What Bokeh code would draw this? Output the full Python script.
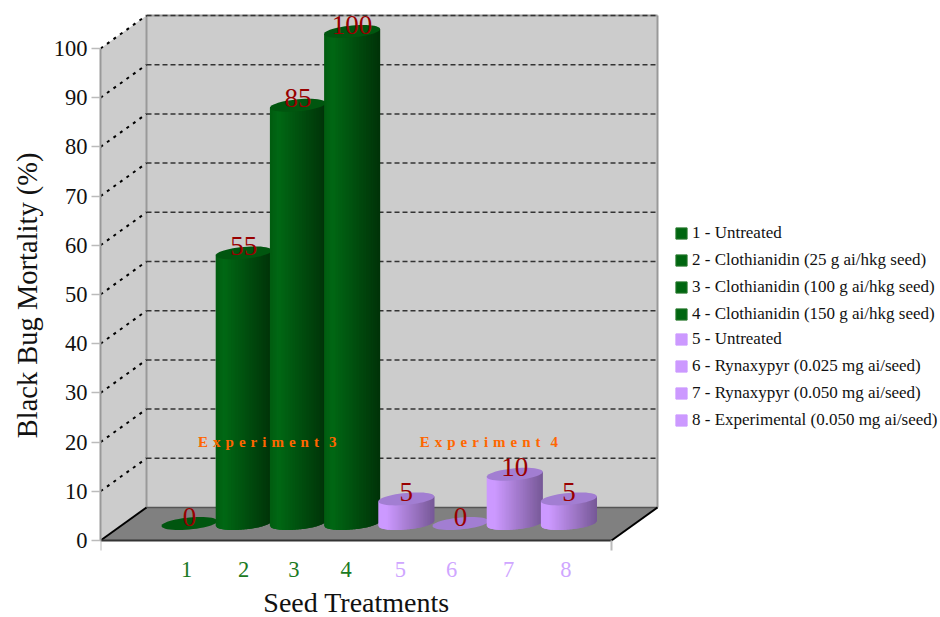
import math

from bokeh.core.properties import value
from bokeh.embed import file_html
from bokeh.models import FixedTicker, Legend, LegendItem, LinearAxis, Range1d, Title
from bokeh.plotting import figure
from bokeh.resources import INLINE

# Bar values: black bug mortality per seed treatment
treatments = [1, 2, 3, 4, 5, 6, 7, 8]
mortality = [0, 55, 85, 100, 5, 0, 10, 5]
experiment_3 = [1, 2, 3, 4]
experiment_4 = [5, 6, 7, 8]
legend_green = [
    "1 - Untreated",
    "2 - Clothianidin (25 g ai/hkg seed)",
    "3 - Clothianidin (100 g ai/hkg seed)",
    "4 - Clothianidin (150 g ai/hkg seed)",
]
legend_purple = [
    "5 - Untreated",
    "6 - Rynaxypyr (0.025 mg ai/seed)",
    "7 - Rynaxypyr (0.050 mg ai/seed)",
    "8 - Experimental (0.050 mg ai/seed)",
]
y_ticks = list(range(0, 101, 10))

WIDTH, HEIGHT = 940, 617
FRAME_LEFT = 100
FONT = "Liberation Serif"

# Pixel scale of the two data axes
PX_PER_T = 54.2
PX_PER_V = 4.92
T1_PX = 186
ZERO_PX = 540

x_start = 1 + (FRAME_LEFT - T1_PX) / PX_PER_T
x_end = 1 + (WIDTH - T1_PX) / PX_PER_T
y_start = (ZERO_PX - HEIGHT) / PX_PER_V
y_end = ZERO_PX / PX_PER_V

# Box of the 3D scene, in data units
front_left = x_start
front_right = 1 + (611 - T1_PX) / PX_PER_T
depth_x = 46 / PX_PER_T
depth_y = 33 / PX_PER_V
top = 100

# Cylinder geometry, in data units
bar_shift = 3 / PX_PER_T
bar_base = 17 / PX_PER_V
bar_a = 0.5 * 56 / PX_PER_T
bar_b = 6 / PX_PER_V
bar_tilt = 2.5 / PX_PER_V
STRIPS = 40

# Small sideways nudges of the treatment numbers, in pixels
tick_nudge_px = [0, 3, -1, -3, -3, -6, -3, 0]

p = figure(
    width=WIDTH,
    height=HEIGHT,
    output_backend="svg",
    toolbar_location=None,
    x_range=Range1d(x_start, x_end),
    y_range=Range1d(y_start, y_end),
    x_axis_location=None,
    y_axis_location="left",
    min_border_left=FRAME_LEFT,
    min_border_right=0,
    min_border_top=0,
    min_border_bottom=0,
    outline_line_color=None,
    background_fill_color="white",
    border_fill_color="white",
)
p.grid.visible = False

# Walls and floor
p.patch(
    [front_left + depth_x, front_right + depth_x, front_right + depth_x, front_left + depth_x],
    [depth_y, depth_y, top + depth_y, top + depth_y],
    fill_color="#cccccc", line_color=None,
)
p.patch(
    [front_left, front_left + depth_x, front_left + depth_x, front_left],
    [0, depth_y, top + depth_y, top],
    fill_color="#cccccc", line_color=None,
)
p.patch(
    [front_left, front_left + depth_x, front_right + depth_x, front_right],
    [0, depth_y, depth_y, 0],
    fill_color="#808080", line_color=None,
)

# Wall outlines
p.multi_line(
    xs=[[front_left + depth_x] * 2, [front_right + depth_x] * 2, [front_left + depth_x, front_right + depth_x]],
    ys=[[depth_y, top + depth_y], [depth_y, top + depth_y], [top + depth_y, top + depth_y]],
    line_color="#999999", line_width=2,
)
p.line([front_left + depth_x, front_right + depth_x], [depth_y, depth_y], line_color="#555555", line_width=1.5)

# Dashed gridlines on the back wall and the side wall
grid_values = [v for v in y_ticks if v > 0]
p.multi_line(
    xs=[[front_left + depth_x, front_right + depth_x] for _ in grid_values],
    ys=[[v + depth_y, v + depth_y] for v in grid_values],
    line_color="#333333", line_width=1.5, line_dash="5 3",
)
p.multi_line(
    xs=[[front_left, front_left + depth_x] for _ in grid_values],
    ys=[[v, v + depth_y] for v in grid_values],
    line_color="#000000", line_width=2, line_dash="3 5",
)

# Floor edges and the short ticks at both ends of the floor front
p.multi_line(
    xs=[[front_left, front_left + depth_x], [front_right, front_right + depth_x]],
    ys=[[0, depth_y], [0, depth_y]],
    line_color="#000000", line_width=2,
)
p.line([front_left, front_right], [0, 0], line_color="#333333", line_width=2)
p.multi_line(
    xs=[[front_left, front_left], [front_right, front_right]],
    ys=[[0, -10 / PX_PER_V], [0, -10 / PX_PER_V]],
    line_color="#bbbbbb", line_width=2,
)


def blend(c1, c2, f):
    return "#" + "".join(f"{round(a + (b - a) * f):02x}" for a, b in zip(c1, c2))


def shade(frac, light, peak, dark):
    # Cylinder shading across the width: a quick highlight, then a long falloff
    if frac < 0.15:
        return blend(light, peak, frac / 0.15)
    return blend(peak, dark, (frac - 0.15) / 0.85)


def cylinder(t, v, light, peak, dark, cap):
    cx = t + bar_shift
    cy_low = bar_base
    cy_high = bar_base + v

    def lower(u):
        return cy_low + bar_tilt * u - bar_b * math.sqrt(max(0.0, 1 - u * u))

    def upper(u):
        return cy_high + bar_tilt * u

    xs, ys, colors = [], [], []
    if v > 0:
        for i in range(STRIPS):
            f0 = i / STRIPS
            # Each strip runs one step past its neighbour, which paints over the joint
            f1 = min(1.0, (i + 2) / STRIPS)
            u0, u1 = 2 * f0 - 1, 2 * f1 - 1
            um = min(2 * (i + 1) / STRIPS - 1, u1)
            xs.append([cx + bar_a * u0, cx + bar_a * um, cx + bar_a * u1, cx + bar_a * u1, cx + bar_a * um, cx + bar_a * u0])
            ys.append([lower(u0), lower(um), lower(u1), upper(u1), upper(um), upper(u0)])
            colors.append(shade((i + 0.5) / STRIPS, light, peak, dark))
        p.patches(xs, ys, fill_color=colors, line_color=None)
    # Top face of the cylinder, sheared to follow the floor
    n = 48
    ex = [cx + bar_a * math.cos(2 * math.pi * k / n) for k in range(n)]
    ey = [
        cy_high + bar_tilt * math.cos(2 * math.pi * k / n) + bar_b * math.sin(2 * math.pi * k / n)
        for k in range(n)
    ]
    p.patch(ex, ey, fill_color=cap, line_color=None)


GREEN = dict(light=(0, 92, 16), peak=(0, 104, 20), dark=(0, 50, 8), cap="#00560f")
PURPLE = dict(light=(204, 153, 255), peak=(204, 153, 255), dark=(118, 88, 150), cap="#a27ed2")

for t, v in zip(treatments, mortality):
    cylinder(t, v, **(GREEN if t in experiment_3 else PURPLE))

# Value labels above each cylinder
p.text(
    x=[t + bar_shift for t in treatments],
    y=[bar_base + v for v in mortality],
    text=[str(v) for v in mortality],
    text_font=value(FONT),
    text_font_size="27px",
    text_color="#990000",
    text_align="center",
    text_baseline="alphabetic",
    y_offset=-7,
)

# Experiment captions, letter-spaced with three-per-em spaces
GAP = "\u2004"
p.text(
    x=[(experiment_3[0] + experiment_3[-1]) / 2 - 0.01, (experiment_4[0] + experiment_4[-1]) / 2 + 0.08],
    y=[20, 20],
    text=[
        GAP.join("Experiment") + GAP * 2 + "3",
        GAP.join("Experiment") + GAP * 2 + "4",
    ],
    text_font=value(FONT),
    text_font_size="15px",
    text_font_style="bold",
    text_color="#ff6600",
    text_align="center",
    text_baseline="middle",
)

# X axis title
p.text(
    x=[1 + (356 - T1_PX) / PX_PER_T],
    y=[(ZERO_PX - 602) / PX_PER_V],
    text=["Seed Treatments"],
    text_font=value(FONT),
    text_font_size="28px",
    text_color="#111111",
    text_align="center",
    text_baseline="middle",
)

# Y axis on the front edge of the side wall
yaxis = p.yaxis[0]
yaxis.ticker = FixedTicker(ticks=y_ticks)
yaxis.bounds = (0, 100)
yaxis.axis_line_color = "#999999"
yaxis.axis_line_width = 2
yaxis.major_tick_line_color = "#bbbbbb"
yaxis.major_tick_line_width = 1.5
yaxis.major_tick_in = 0
yaxis.major_tick_out = 9
yaxis.minor_tick_line_color = None
yaxis.major_label_text_font = FONT
yaxis.major_label_text_font_size = "22.5px"
yaxis.major_label_text_color = "#111111"
yaxis.major_label_standoff = 4

# Y axis title, anchored by its upper end so it sits above the frame's centre
p.add_layout(Title(
    text="Black Bug Mortality (%)",
    align="right",
    offset=152,
    standoff=16,
    text_font=FONT,
    text_font_size="28.5px",
    text_font_style="normal",
    text_color="#111111",
), "left")


# Treatment numbers along the floor, one axis per experiment so each has its colour
def treatment_axis(ticks, color):
    places = {t + tick_nudge_px[t - 1] / PX_PER_T: str(t) for t in ticks}
    axis = LinearAxis(
        fixed_location=0,
        ticker=FixedTicker(ticks=list(places)),
        major_label_overrides=places,
        axis_line_color=None,
        major_tick_line_color=None,
        minor_tick_line_color=None,
        major_label_text_font=FONT,
        major_label_text_font_size="22.5px",
        major_label_text_color=color,
        major_label_standoff=15,
    )
    p.add_layout(axis, "below")


treatment_axis(experiment_3, "#1a7a22")
treatment_axis(experiment_4, "#cfa6ff")

# Legends: swatch renderers hold a single off-scale point, only their glyph is shown
nan = float("nan")
swatch_green = p.quad(left=[nan], right=[nan], top=[nan], bottom=[nan], fill_color="#006610", line_color="#2a7a30")
swatch_purple = p.quad(left=[nan], right=[nan], top=[nan], bottom=[nan], fill_color="#cc99ff", line_color="#cc99ff")


def add_legend(labels, renderer, top_px):
    rows = len(labels)
    row = 27
    legend = Legend(
        items=[LegendItem(label=s, renderers=[renderer], index=0) for s in labels],
        location=(674 - FRAME_LEFT, HEIGHT - (top_px + rows * row)),
        orientation="vertical",
        background_fill_alpha=0,
        border_line_color=None,
        padding=0,
        margin=0,
        spacing=7,
        glyph_width=14,
        glyph_height=14,
        label_height=20,
        label_width=200,
        label_standoff=4,
        label_text_font=FONT,
        label_text_font_size="17px",
        label_text_color="#111111",
        label_text_baseline="middle",
    )
    p.add_layout(legend, "center")


add_legend(legend_green, swatch_green, 216)
add_legend(legend_purple, swatch_purple, 322)

open("out.html", "w").write(file_html(p, INLINE))
